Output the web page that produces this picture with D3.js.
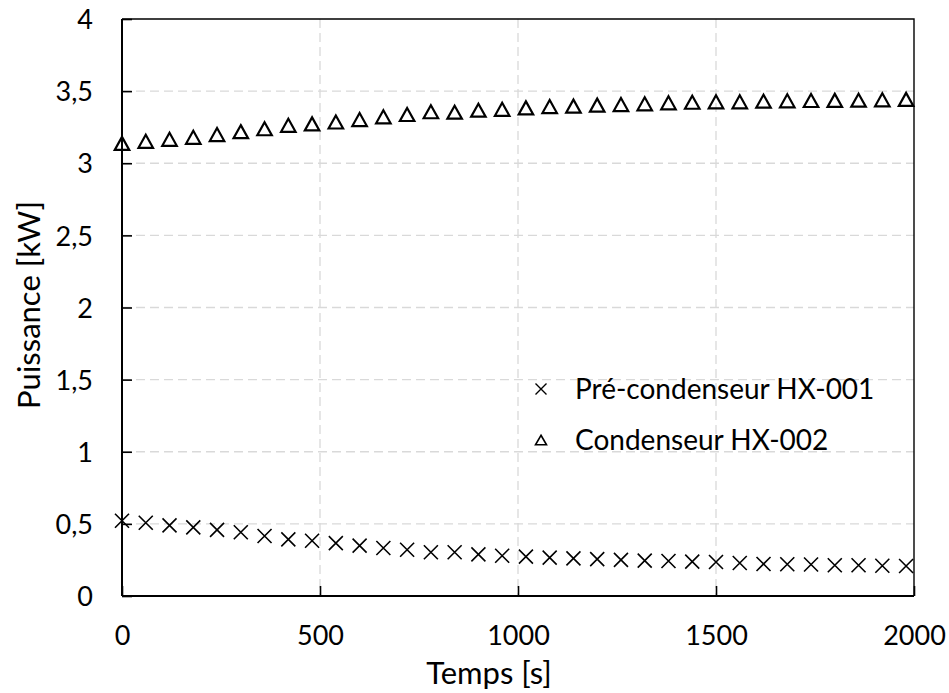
<!DOCTYPE html>
<html><head><meta charset="utf-8">
<script src="https://cdn.jsdelivr.net/npm/d3@7"></script>
<style>html,body{margin:0;padding:0;background:#fff;} svg{display:block;}</style>
</head><body>
<svg id="chart" width="949" height="693"></svg>
<script>
const timeS = [0,60,120,180,240,300,360,420,480,540,600,660,720,780,840,900,960,1020,1080,1140,1200,1260,1320,1380,1440,1500,1560,1620,1680,1740,1800,1860,1920,1980];
const preCondenseur = [0.522,0.508,0.490,0.476,0.458,0.442,0.416,0.393,0.383,0.367,0.349,0.333,0.321,0.303,0.303,0.289,0.279,0.273,0.266,0.261,0.256,0.250,0.245,0.243,0.238,0.236,0.229,0.222,0.220,0.218,0.213,0.213,0.210,0.208];
const condenseur = [3.138,3.152,3.166,3.180,3.199,3.219,3.239,3.263,3.273,3.286,3.303,3.322,3.338,3.357,3.354,3.368,3.374,3.384,3.393,3.396,3.403,3.407,3.412,3.419,3.423,3.426,3.426,3.430,3.433,3.435,3.436,3.437,3.440,3.443];
const xTicks = [0,500,1000,1500,2000];
const yTicks = [0,0.5,1,1.5,2,2.5,3,3.5,4];
const seriesNames = ["Pré-condenseur HX-001","Condenseur HX-002"];
const xTitle = "Temps [s]";
const yTitle = "Puissance [kW]";

const FONT = "Lato, 'Open Sans', sans-serif";
const svg = d3.select("#chart");
const L = 122, R = 914, T = 19, B = 596;
const x = d3.scaleLinear().domain([0,2000]).range([L,R]);
const y = d3.scaleLinear().domain([0,4]).range([B,T]);

// grid
const grid = svg.append("g").attr("stroke","#d9d9d9").attr("stroke-width",1.3).attr("stroke-dasharray","9,5");
grid.selectAll("line.h").data(yTicks.filter(v=>v>0&&v<4)).join("line")
  .attr("x1",L).attr("x2",R).attr("y1",d=>y(d)).attr("y2",d=>y(d));
grid.selectAll("line.v").data(xTicks.filter(v=>v>0&&v<2000)).join("line")
  .attr("y1",T).attr("y2",B).attr("x1",d=>x(d)).attr("x2",d=>x(d));

// frame top/right
svg.append("path").attr("d",`M${L},${T}H${R}V${B}`).attr("fill","none").attr("stroke","#000").attr("stroke-width",1.4);

// axes
const xAxis = d3.axisBottom(x).tickValues(xTicks).tickSize(-10).tickPadding(0).tickFormat(d3.format("d"));
const gx = svg.append("g").attr("transform",`translate(0,${B})`).call(xAxis);
const commaFmt = d => String(d).replace(".",",");
const yAxis = d3.axisLeft(y).tickValues(yTicks).tickSize(-10).tickPadding(29).tickFormat(commaFmt);
const gy = svg.append("g").attr("transform",`translate(${L},0)`).call(yAxis);
[gx,gy].forEach(g=>{
  g.select(".domain").attr("stroke","#000").attr("stroke-width",2);
  g.selectAll(".tick line").attr("stroke","#000").attr("stroke-width",1.6);
  g.selectAll(".tick text").attr("font-family",FONT).attr("font-size",27).attr("fill","#000");
});
gx.select(".domain").attr("d",`M${L},0H${R}`);
gy.select(".domain").attr("d",`M0,${B}V${T}`);
gy.selectAll(".tick text").attr("dy","0.36em");
gx.selectAll(".tick text").attr("y",49).attr("dy",0);

// titles
svg.append("text").attr("x",489).attr("y",684).attr("text-anchor","middle")
  .attr("font-family",FONT).attr("font-size",31).text(xTitle);
svg.append("text").attr("transform",`translate(40,305) rotate(-90)`).attr("text-anchor","middle")
  .attr("font-family",FONT).attr("font-size",31).text(yTitle);

// markers
const crossPath = s => `M${-s},${-s}L${s},${s}M${-s},${s}L${s},${-s}`;
const triPath = (w,h) => `M0,${-h/2}L${w/2},${h/2}L${-w/2},${h/2}Z`;

const pts1 = timeS.map((t,i)=>({t, v: preCondenseur[i]}));
const pts2 = timeS.map((t,i)=>({t, v: condenseur[i]}));
svg.append("g").selectAll("path").data(pts1).join("path")
  .attr("transform",d=>`translate(${x(d.t)},${y(d.v)})`)
  .attr("d",crossPath(7)).attr("fill","none").attr("stroke","#000").attr("stroke-width",1.6);
svg.append("g").selectAll("path").data(pts2).join("path")
  .attr("transform",d=>`translate(${x(d.t)},${y(d.v)})`)
  .attr("d",triPath(14.5,13)).attr("fill","none").attr("stroke","#000").attr("stroke-width",2.2).attr("stroke-linejoin","miter");

// legend
const leg = svg.append("g");
leg.append("path").attr("transform","translate(541,389)").attr("d",crossPath(5.5)).attr("fill","none").attr("stroke","#000").attr("stroke-width",1.4);
leg.append("path").attr("transform","translate(541,440)").attr("d",triPath(11,9.5)).attr("fill","none").attr("stroke","#000").attr("stroke-width",1.6);
leg.append("text").attr("x",575).attr("y",399).attr("font-family",FONT).attr("font-size",28).text(seriesNames[0]);
leg.append("text").attr("x",575).attr("y",450).attr("font-family",FONT).attr("font-size",28).text(seriesNames[1]);
</script>
</body></html>
